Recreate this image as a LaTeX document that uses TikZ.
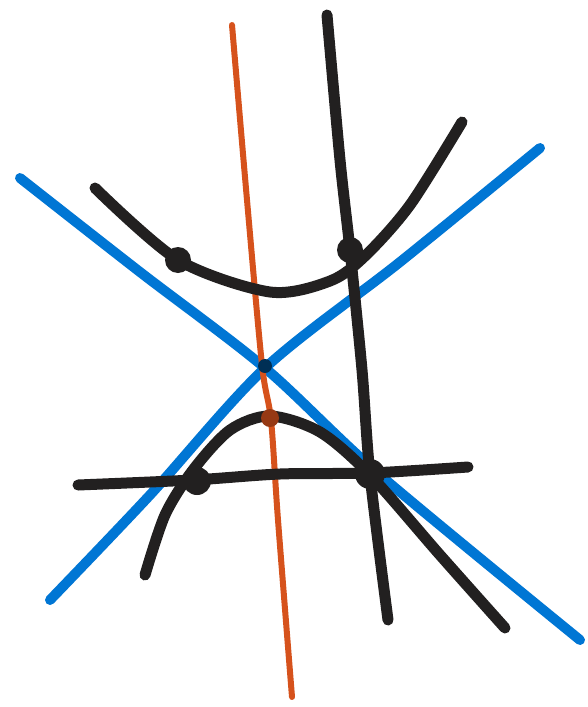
\documentclass[tikz,border=0pt]{standalone}
\definecolor{penblue}{RGB}{0,118,212}
\definecolor{penorange}{RGB}{214,82,28}
\definecolor{penblack}{RGB}{34,32,32}
\begin{document}
\begin{tikzpicture}[x=1pt,y=-1pt,
  blackline/.style={draw=penblack,line width=11pt,line cap=round,line join=round},
  blueline/.style={draw=penblue,line width=10pt,line cap=round},
  orangeline/.style={draw=penorange,line width=6pt,line cap=round},
  dotmark/.style={fill=penblack}]
\useasboundingbox (0,0) rectangle (588,707);
\fill[white] (0,0) rectangle (588,707);
% blue lines
\draw[blueline] plot[smooth] coordinates {(20,178) (140,272) (265,368) (380,475) (580,640)};
\draw[blueline] plot[smooth] coordinates {(50,600) (150,495) (265,368) (400,262) (540,148)};
% orange line
\draw[orangeline] plot[smooth] coordinates {(232,25) (247,200) (262,365) (271,420) (278,520) (292,697)};
% black near vertical
\draw[blackline] plot[smooth] coordinates {(327,15) (340,160) (350,250) (362,370) (370,475) (388,620)};
% upper curve
\draw[blackline] plot[smooth] coordinates {(95,188) (178,260) (270,292) (330,281) (365,256) (410,205) (462,122)};
% lower curve
\draw[blackline] plot[smooth] coordinates {(145,575) (165,515) (193,470) (230,430) (270,416) (320,432) (370,475) (440,555) (505,628)};
% horizontal
\draw[blackline] plot[smooth] coordinates {(78,485) (193,480) (280,474) (370,473) (468,467)};
% dots
\fill[dotmark] (178,260) circle (13);
\fill[dotmark] (350,250) circle (13);
\fill[dotmark] (197,481) circle (14);
\fill[dotmark] (370,474) circle (15);
\fill[black!60!penblue] (265,366) circle (7);
\fill[penorange!70!black] (270,418) circle (9);
\end{tikzpicture}
\end{document}
